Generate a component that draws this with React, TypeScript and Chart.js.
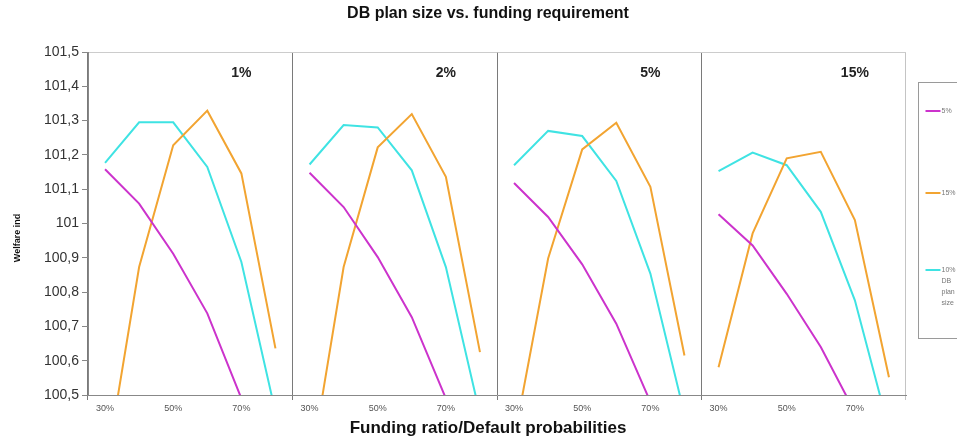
import React, { useEffect, useRef } from "react";
import { Chart, registerables } from "chart.js";

Chart.register(...registerables);

const chartTitle = "DB plan size vs. funding requirement";
const xAxisTitle = "Funding ratio/Default probabilities";
const yAxisTitle = "Welfare ind";
const categories = ["30%", "40%", "50%", "60%", "70%", "80%"];
const shownTicks = ["30%", "50%", "70%"];
const panelLabels = ["1%", "2%", "5%", "15%"];
const seriesNames = ["5%", "15%", "10% DB plan size"];

// "5%" series (magenta), one row per panel
const magenta1 = [101.158, 101.058, 100.912, 100.738, 100.49, 100.2];
const magenta2 = [101.148, 101.048, 100.902, 100.727, 100.49, 100.2];
const magenta3 = [101.118, 101.019, 100.881, 100.708, 100.48, 100.2];
const magenta4 = [101.027, 100.936, 100.795, 100.64, 100.45, 100.2];

// "15%" series (orange)
const orange1 = [100.27, 100.873, 101.228, 101.329, 101.146, 100.636];
const orange2 = [100.27, 100.873, 101.222, 101.319, 101.136, 100.625];
const orange3 = [100.37, 100.898, 101.216, 101.294, 101.107, 100.615];
const orange4 = [100.581, 100.971, 101.19, 101.209, 101.01, 100.552];

// "10% DB plan size" series (cyan)
const cyan1 = [101.177, 101.295, 101.295, 101.165, 100.888, 100.45];
const cyan2 = [101.172, 101.287, 101.28, 101.155, 100.873, 100.444];
const cyan3 = [101.17, 101.27, 101.255, 101.124, 100.854, 100.444];
const cyan4 = [101.153, 101.207, 101.17, 101.034, 100.776, 100.4];

const yMin = 100.5;
const yMax = 101.5;
const yStep = 0.1;

const colors = ["#CC33CC", "#F2A431", "#3FE3E3"];
const FONT = '"Liberation Sans", Arial, sans-serif';

const overlayPlugin = {
  id: "overlay",
  afterDraw(chart: any) {
    const { ctx, chartArea } = chart;
    const x = chart.scales.x;
    ctx.save();
    ctx.fillStyle = "#111";
    ctx.textAlign = "center";
    ctx.textBaseline = "middle";
    ctx.font = `bold 16px ${FONT}`;
    ctx.fillText(chartTitle, 488, 14);
    ctx.font = `bold 17px ${FONT}`;
    ctx.fillText(xAxisTitle, 488, 428);
    // panel labels
    ctx.font = `bold 14px ${FONT}`;
    ctx.fillStyle = "#222";
    panelLabels.forEach((lab, p) => {
      ctx.fillText(lab, x.getPixelForValue(p * categories.length + 4), 73);
    });
    // y title
    ctx.save();
    ctx.translate(18, 238);
    ctx.rotate(-Math.PI / 2);
    ctx.font = `bold 9px ${FONT}`;
    ctx.fillStyle = "#111";
    ctx.fillText(yAxisTitle, 0, 0);
    ctx.restore();
    // legend
    const lx = chartArea.right + 12.5;
    ctx.strokeStyle = "#9a9a9a";
    ctx.lineWidth = 1;
    ctx.strokeRect(lx, 82.5, 80, 256);
    const itemY = [111, 193, 270];
    ctx.textAlign = "left";
    ctx.font = `7px ${FONT}`;
    seriesNames.forEach((name, i) => {
      ctx.strokeStyle = colors[i];
      ctx.lineWidth = 2;
      ctx.beginPath();
      ctx.moveTo(lx + 7, itemY[i]);
      ctx.lineTo(lx + 22, itemY[i]);
      ctx.stroke();
      ctx.fillStyle = "#777";
      const words = name.split(" ");
      words.forEach((w, k) => ctx.fillText(w, lx + 23, itemY[i] + k * 11));
    });
    ctx.restore();
  },
};

export default function App() {
  const ref = useRef<HTMLCanvasElement>(null);
  useEffect(() => {
    const labels = panelLabels.flatMap(() => categories);
    const magenta = [...magenta1, ...magenta2, ...magenta3, ...magenta4];
    const orange = [...orange1, ...orange2, ...orange3, ...orange4];
    const cyan = [...cyan1, ...cyan2, ...cyan3, ...cyan4];
    const n = categories.length;
    const mk = (label: string, data: number[], color: string) => ({
      label,
      data,
      borderColor: color,
      backgroundColor: color,
      borderWidth: 2,
      pointRadius: 0,
      tension: 0,
      clip: 0,
      segment: {
        borderColor: (c: any) => (c.p0DataIndex % n === n - 1 ? "transparent" : undefined),
      },
    });
    const chart = new Chart(ref.current!, {
      type: "line",
      data: {
        labels,
        datasets: [
          mk(seriesNames[0], magenta, colors[0]),
          mk(seriesNames[1], orange, colors[1]),
          mk(seriesNames[2], cyan, colors[2]),
        ],
      },
      options: {
        animation: false,
        responsive: false,
        layout: { padding: { left: 0, right: 51, top: 52, bottom: 0 } },
        plugins: { legend: { display: false }, title: { display: false }, tooltip: { enabled: false } },
        scales: {
          x: {
            type: "category",
            offset: true,
            afterFit: (s: any) => {
              s.height = 46;
            },
            border: { color: "#888" },
            grid: {
              offset: true,
              color: (c: any) =>
                c.index === undefined ? "#c4c4c4" : c.index % n === 0 ? "#7a7a7a" : "transparent",
              tickLength: 5,
            },
            ticks: {
              autoSkip: false,
              maxRotation: 0,
              padding: 3,
              color: "#555",
              font: { size: 9, family: FONT },
              callback: (v: any, i: number) => {
                const lab = categories[i % n];
                return shownTicks.includes(lab) ? lab : "";
              },
            },
          },
          y: {
            min: yMin,
            max: yMax,
            afterFit: (s: any) => {
              s.width = 88;
            },
            border: { color: "#888" },
            grid: {
              color: (c: any) =>
                c.index === c.scale.ticks.length - 1 ? "#cccccc" : "transparent",
              tickColor: "#888",
              tickLength: 6,
            },
            ticks: {
              stepSize: yStep,
              padding: 3,
              color: "#333",
              font: { size: 14, family: FONT },
              callback: (v: any) => (Math.round(Number(v) * 10) / 10).toString().replace(".", ","),
            },
          },
        },
      },
      plugins: [overlayPlugin],
    });
    return () => chart.destroy();
  }, []);
  return (
    <div style={{ position: "absolute", left: 0, top: 0, width: 957, height: 441, background: "#fff" }}>
      <canvas ref={ref} width={957} height={441} style={{ display: "block" }} />
    </div>
  );
}
